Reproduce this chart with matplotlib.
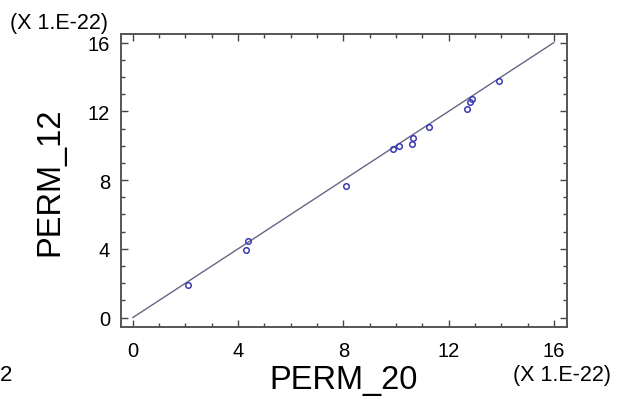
import matplotlib
matplotlib.use("Agg")
import matplotlib.pyplot as plt
from matplotlib.ticker import MultipleLocator
import numpy as np

plt.rcParams['font.family'] = ['Liberation Sans', 'DejaVu Sans']

# data (units of 1e-22)
perm_20 = [2.11, 4.30, 4.39, 8.10, 9.89, 10.11, 10.62, 10.64, 11.25, 12.71, 12.80, 12.90, 13.92]
perm_12 = [1.89, 3.95, 4.48, 7.67, 9.81, 10.00, 10.10, 10.43, 11.08, 12.15, 12.54, 12.73, 13.74]
fit_range = [0.0, 16.0]
fit_intercept = 0.0
fit_slope = 1.0
ticks = [0, 4, 8, 12, 16]

fig = plt.figure(figsize=(6.19, 4.06), dpi=100)
ax = fig.add_axes([121/619, 1-328/406, (567-121)/619, (328-35)/406])

fx = np.array(fit_range)
ax.plot(fx, fit_intercept + fit_slope*fx, color='#666684', lw=1.0, zorder=2)
ax.plot(perm_20, perm_12, linestyle='none', marker='o', markersize=4,
        markerfacecolor='none', markeredgecolor='#3a3ab4', markeredgewidth=1.1, zorder=3)

ax.set_xlim(-0.45, 16.5)
ax.set_ylim(-0.55, 16.5)
ax.set_xticks(ticks)
ax.set_yticks(ticks)
ax.xaxis.set_minor_locator(MultipleLocator(1))
ax.yaxis.set_minor_locator(MultipleLocator(1))
ax.tick_params(which='both', direction='in', top=True, right=True, color='#444444', width=1.0)
ax.tick_params(which='major', length=5, labelsize=14.5)
ax.tick_params(which='minor', length=3)
ax.tick_params(axis='x', pad=10)
ax.tick_params(axis='y', pad=8)
for s in ax.spines.values():
    s.set_color('#555555')
    s.set_linewidth(1.4)

ax.set_xlabel('PERM_20', fontsize=23.5, labelpad=3)
ax.set_ylabel('PERM_12', fontsize=23.5, labelpad=16)

fig.text(10/619, 1-29/406, '(X 1.E-22)', fontsize=15.5, ha='left', va='baseline')
fig.text(513/619, 1-381/406, '(X 1.E-22)', fontsize=15.5, ha='left', va='baseline')
fig.text(0/619, 1-381/406, '2', fontsize=16, ha='left', va='baseline')

fig.savefig('out.png', dpi=100, facecolor='white')
